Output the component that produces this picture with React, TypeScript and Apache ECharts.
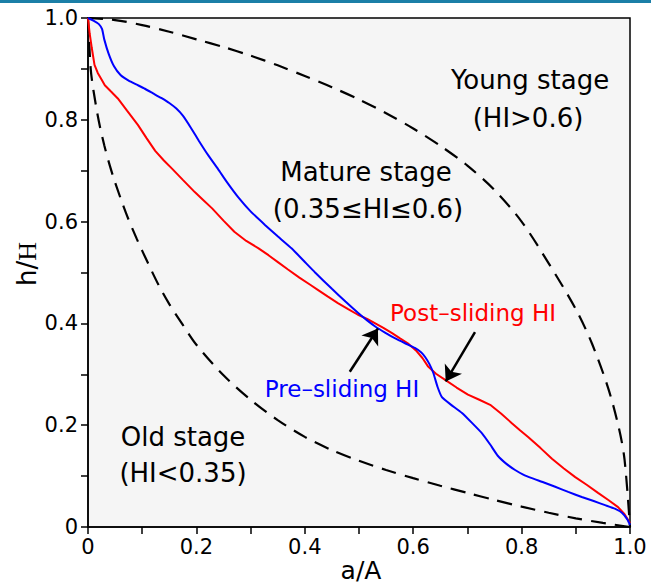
import React, { useEffect, useRef } from "react";
import * as echarts from "echarts";

const xTicks = ["0", "0.2", "0.4", "0.6", "0.8", "1.0"];
const yTicks = ["0", "0.2", "0.4", "0.6", "0.8", "1.0"];

const preSliding: number[][] = [
  [0, 1], [0.01, 0.995], [0.02, 0.988], [0.026, 0.978], [0.03, 0.958], [0.038, 0.93],
  [0.048, 0.905], [0.06, 0.888], [0.075, 0.877], [0.09, 0.869], [0.105, 0.861], [0.12, 0.852],
  [0.135, 0.843], [0.15, 0.833], [0.163, 0.822], [0.175, 0.808], [0.19, 0.784], [0.205, 0.758],
  [0.222, 0.73], [0.24, 0.703], [0.258, 0.675], [0.277, 0.648], [0.3, 0.62], [0.327, 0.593],
  [0.35, 0.571], [0.376, 0.547], [0.398, 0.523], [0.419, 0.5], [0.45, 0.468], [0.475, 0.443],
  [0.498, 0.421], [0.515, 0.406], [0.53, 0.394], [0.548, 0.382], [0.566, 0.371], [0.585, 0.361],
  [0.603, 0.352], [0.615, 0.343], [0.622, 0.334], [0.63, 0.32], [0.637, 0.303], [0.645, 0.275],
  [0.653, 0.255], [0.67, 0.24], [0.69, 0.224], [0.708, 0.205], [0.727, 0.184], [0.742, 0.162],
  [0.756, 0.14], [0.772, 0.124], [0.788, 0.112], [0.803, 0.103], [0.819, 0.096], [0.84, 0.088],
  [0.862, 0.079], [0.886, 0.069], [0.911, 0.059], [0.933, 0.051], [0.954, 0.043], [0.972, 0.036],
  [0.985, 0.028], [0.995, 0.015], [1, 0.004],
];

const postSliding: number[][] = [
  [0, 1], [0.003, 0.97], [0.007, 0.941], [0.012, 0.908], [0.018, 0.892], [0.025, 0.879],
  [0.031, 0.868], [0.042, 0.856], [0.055, 0.842], [0.072, 0.818], [0.092, 0.79], [0.108, 0.764],
  [0.124, 0.739], [0.14, 0.72], [0.155, 0.704], [0.175, 0.682], [0.197, 0.658], [0.212, 0.643],
  [0.229, 0.626], [0.25, 0.602], [0.27, 0.58], [0.292, 0.562], [0.314, 0.548], [0.333, 0.534],
  [0.351, 0.52], [0.369, 0.506], [0.39, 0.49], [0.41, 0.476], [0.424, 0.466], [0.442, 0.453],
  [0.461, 0.44], [0.48, 0.428], [0.498, 0.417], [0.515, 0.409], [0.53, 0.4], [0.545, 0.391],
  [0.561, 0.381], [0.575, 0.371], [0.59, 0.361], [0.605, 0.347], [0.617, 0.332], [0.627, 0.316],
  [0.642, 0.301], [0.659, 0.289], [0.68, 0.274], [0.701, 0.26], [0.722, 0.25], [0.742, 0.24],
  [0.762, 0.223], [0.782, 0.204], [0.797, 0.19], [0.812, 0.177], [0.835, 0.155], [0.856, 0.134],
  [0.878, 0.115], [0.899, 0.098], [0.92, 0.083], [0.941, 0.067], [0.96, 0.053], [0.978, 0.039],
  [0.99, 0.025], [1, 0.008],
];

const youngBoundary: number[][] = [
  [0, 1], [0.05, 0.996], [0.1, 0.986], [0.15, 0.973], [0.2, 0.958], [0.25, 0.943],
  [0.3, 0.926], [0.35, 0.907], [0.4, 0.886], [0.45, 0.864], [0.5, 0.84], [0.55, 0.813],
  [0.6, 0.783], [0.65, 0.749], [0.7, 0.71], [0.75, 0.662], [0.8, 0.6], [0.85, 0.518],
  [0.9, 0.428], [0.93, 0.36], [0.96, 0.272], [0.98, 0.192], [0.99, 0.132], [1, 0],
];

const oldBoundary: number[][] = [
  [0, 1], [0.005, 0.9], [0.01, 0.858], [0.02, 0.797], [0.03, 0.75], [0.04, 0.711],
  [0.05, 0.677], [0.07, 0.617], [0.09, 0.566], [0.11, 0.52], [0.13, 0.476], [0.15, 0.438],
  [0.175, 0.397], [0.2, 0.358], [0.25, 0.298], [0.3, 0.25], [0.35, 0.21], [0.4, 0.177],
  [0.45, 0.151], [0.5, 0.13], [0.55, 0.112], [0.6, 0.096], [0.65, 0.081], [0.7, 0.067],
  [0.75, 0.053], [0.8, 0.04], [0.85, 0.028], [0.9, 0.017], [0.95, 0.008], [1, 0],
];

const preArrow: number[][] = [[0.483, 0.305], [0.535, 0.39]];
const postArrow: number[][] = [[0.714, 0.383], [0.66, 0.286]];

const FONT = "DejaVu Sans";

function tickLabel(list: string[]) {
  return (v: number) => {
    const k = Math.round(v * 10);
    if (k % 2 !== 0) return "";
    return list[k / 2] ?? "";
  };
}

export default function App() {
  const ref = useRef<HTMLDivElement>(null);
  useEffect(() => {
    if (!ref.current) return;
    const chart = echarts.init(ref.current, undefined, { renderer: "svg" });
    const dashed = { color: "#000", width: 2.2, type: [15, 9] as any };
    const text = (t: string, x: number, y: number, size: number, fill = "#000") => ({
      type: "text",
      x,
      y,
      silent: true,
      style: {
        text: t,
        fontSize: size,
        fontFamily: FONT,
        fill,
        align: "center",
        verticalAlign: "middle",
      },
    });
    const axisCommon = {
      type: "value",
      min: 0,
      max: 1,
      interval: 0.1,
      axisLine: { lineStyle: { color: "#000", width: 1.5 } },
      axisTick: { show: true, length: 7, lineStyle: { color: "#000", width: 1.5 } },
      splitLine: { show: false },
    };
    chart.setOption({
      animation: false,
      backgroundColor: "#fff",
      grid: {
        left: 88,
        right: 21,
        top: 18,
        bottom: 58,
        show: true,
        backgroundColor: "#f5f5f5",
        borderColor: "#000",
        borderWidth: 1.5,
      },
      xAxis: {
        ...axisCommon,
        axisLabel: {
          formatter: tickLabel(xTicks),
          color: "#000",
          fontSize: 21,
          fontFamily: FONT,
          margin: 9,
          showMaxLabel: true,
          showMinLabel: true,
        },
      },
      yAxis: {
        ...axisCommon,
        axisLabel: {
          formatter: tickLabel(yTicks),
          color: "#000",
          fontSize: 21,
          fontFamily: FONT,
          margin: 10,
          showMaxLabel: true,
          showMinLabel: true,
        },
      },
      series: [
        {
          type: "line",
          data: youngBoundary,
          showSymbol: false,
          symbol: "none",
          smooth: 0.3,
          lineStyle: dashed,
          silent: true,
          z: 2,
        },
        {
          type: "line",
          data: oldBoundary,
          showSymbol: false,
          symbol: "none",
          smooth: 0.3,
          lineStyle: dashed,
          silent: true,
          z: 2,
        },
        {
          type: "line",
          data: postSliding,
          showSymbol: false,
          symbol: "none",
          lineStyle: { color: "#ff0000", width: 2 },
          silent: true,
          z: 3,
        },
        {
          type: "line",
          data: preSliding,
          showSymbol: false,
          symbol: "none",
          smooth: 0.15,
          lineStyle: { color: "#0000ff", width: 2 },
          silent: true,
          z: 4,
        },
        {
          type: "lines",
          coordinateSystem: "cartesian2d",
          data: [{ coords: preArrow }, { coords: postArrow }],
          symbol: ["none", "arrow"],
          symbolSize: 15,
          lineStyle: { color: "#000", width: 2.5, opacity: 1 },
          silent: true,
          z: 5,
        },
      ],
      graphic: [
        { type: "rect", shape: { x: 0, y: 0, width: 651, height: 3 }, style: { fill: "#1b7fa7" }, silent: true },
        text("Young stage", 530, 80, 26),
        text("(HI>0.6)", 528, 118, 26),
        text("Mature stage", 366, 172, 26),
        text("(0.35≤HI≤0.6)", 368, 209, 26),
        text("Old stage", 183, 437, 26),
        text("(HI<0.35)", 183, 473, 26),
        text("Pre–sliding HI", 342, 389, 23, "#0000ff"),
        text("Post–sliding HI", 473, 313, 23, "#ff0000"),
        text("a/A", 361, 570, 25),
        {
          type: "text",
          x: 27,
          y: 264,
          rotation: Math.PI / 2,
          silent: true,
          style: {
            text: "{a|h/}{b|H}",
            align: "center",
            verticalAlign: "middle",
            fill: "#000",
            rich: {
              a: { fontFamily: FONT, fontSize: 26, fill: "#000" },
              b: { fontFamily: "Liberation Serif", fontSize: 26, fill: "#000" },
            },
          },
        },
      ],
    });
    return () => chart.dispose();
  }, []);
  return (
    <div
      ref={ref}
      style={{ position: "fixed", left: 0, top: 0, width: 651, height: 585 }}
    />
  );
}
